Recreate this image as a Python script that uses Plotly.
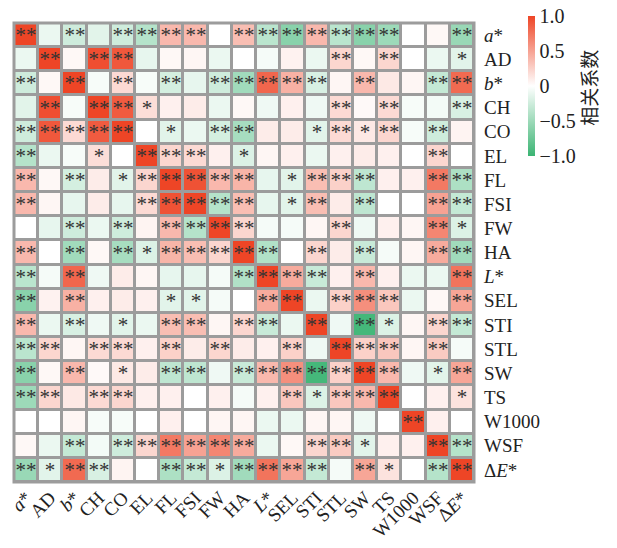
import plotly.graph_objects as go

labels = ["<i>a</i>*", "AD", "<i>b</i>*", "CH", "CO", "EL", "FL", "FSI", "FW", "HA",
          "<i>L</i>*", "SEL", "STI", "STL", "SW", "TS", "W1000", "WSF", "Δ<i>E</i>*"]

corr = [
    [1, -0.1, -0.25, -0.15, -0.25, -0.38, 0.38, 0.38, 0, 0.35, -0.35, -0.6, 0.38, -0.35, -0.6, -0.5, 0, 0.04, -0.52],
    [-0.1, 1, 0.04, 0.95, 0.9, -0.12, 0.04, 0.05, -0.1, 0, -0.05, 0.07, -0.1, 0.22, 0.04, 0.22, 0, -0.1, -0.15],
    [-0.25, 0.04, 1, -0.04, 0.2, -0.04, -0.22, -0.12, -0.25, -0.48, 0.82, 0.42, -0.2, 0.05, 0.38, 0.12, 0.05, -0.3, 0.8],
    [-0.15, 0.95, -0.04, 1, 0.88, 0.18, 0.08, 0.1, -0.1, 0.04, -0.08, 0.08, -0.08, 0.2, 0.03, 0.2, -0.04, -0.06, -0.2],
    [-0.25, 0.9, 0.2, 0.88, 1, 0, -0.15, -0.1, -0.22, -0.45, 0.1, 0.1, -0.15, 0.2, 0.12, 0.22, -0.04, -0.25, 0.06],
    [-0.38, -0.1, -0.04, 0.18, 0, 1, 0.22, 0.2, 0.08, -0.18, 0.05, 0.08, -0.1, 0.08, 0.1, 0.08, 0, 0.22, 0],
    [0.38, 0.04, -0.22, 0.1, -0.15, 0.22, 1, 0.93, 0.38, 0.4, -0.12, -0.15, 0.35, 0.25, -0.33, 0.08, 0.08, 0.72, -0.42],
    [0.38, 0.05, -0.12, 0.1, -0.12, 0.2, 0.93, 1, -0.38, 0.35, -0.12, -0.15, 0.35, 0.1, -0.33, 0, 0, 0.5, -0.3],
    [0, -0.12, -0.25, -0.1, -0.25, 0.06, 0.38, -0.38, 1, 0.22, -0.05, -0.05, 0.05, 0.22, -0.08, 0.08, 0.05, 0.65, -0.18],
    [0.38, 0, -0.48, 0.04, -0.45, -0.18, 0.4, 0.35, 0.22, 1, -0.4, 0, 0.22, 0.1, -0.28, -0.05, 0.05, 0.45, -0.48],
    [-0.35, -0.05, 0.82, -0.08, 0.1, 0.05, -0.12, -0.12, -0.05, -0.4, 1, 0.45, -0.28, 0.08, 0.38, 0.08, -0.1, -0.1, 0.75],
    [-0.6, 0.07, 0.42, 0.08, 0.1, 0.08, -0.15, -0.15, -0.05, 0, 0.45, 1, -0.1, 0.25, 0.6, 0.3, -0.1, 0.04, 0.48],
    [0.38, -0.1, -0.2, -0.08, -0.15, -0.1, 0.35, 0.35, 0.05, 0.22, -0.28, -0.1, 1, -0.08, -0.95, -0.18, 0.05, 0.22, -0.3],
    [-0.35, 0.22, 0.05, 0.2, 0.2, 0.08, 0.25, 0.1, 0.22, 0.1, 0.08, 0.25, -0.08, 1, 0.25, 0.3, 0.05, 0.28, -0.05],
    [-0.6, 0.04, 0.38, 0.03, 0.12, 0.1, -0.33, -0.33, -0.08, -0.28, 0.38, 0.6, -0.95, 0.25, 1, 0.38, -0.08, -0.15, 0.48],
    [-0.5, 0.22, 0.12, 0.2, 0.22, 0.08, 0.08, 0, 0.08, -0.05, 0.08, 0.3, -0.18, 0.3, 0.38, 1, 0, 0.08, 0.15],
    [0, 0, 0.05, -0.04, -0.04, 0, 0.08, 0, 0.05, 0.05, -0.1, -0.1, 0.05, 0.05, -0.08, 0, 1, 0.08, 0],
    [0.04, -0.1, -0.3, -0.06, -0.25, 0.22, 0.72, 0.5, 0.65, 0.45, -0.1, 0.04, 0.22, 0.28, -0.15, 0.08, 0.08, 1, -0.38],
    [-0.52, -0.15, 0.8, -0.2, 0.06, 0, -0.42, -0.3, -0.18, -0.48, 0.75, 0.48, -0.3, -0.05, 0.48, 0.15, 0, -0.38, 1],
]

sig = [
    ["**", "", "**", "", "**", "**", "**", "**", "", "**", "**", "**", "**", "**", "**", "**", "", "", "**"],
    ["", "**", "", "**", "**", "", "", "", "", "", "", "", "", "**", "", "**", "", "", "*"],
    ["**", "", "**", "", "**", "", "**", "", "**", "**", "**", "**", "**", "", "**", "", "", "**", "**"],
    ["", "**", "", "**", "**", "*", "", "", "", "", "", "", "", "**", "", "**", "", "", "**"],
    ["**", "**", "**", "**", "**", "", "*", "", "**", "**", "", "", "*", "**", "*", "**", "", "**", ""],
    ["**", "", "", "*", "", "**", "**", "**", "", "*", "", "", "", "", "", "", "", "**", ""],
    ["**", "", "**", "", "*", "**", "**", "**", "**", "**", "", "*", "**", "**", "**", "", "", "**", "**"],
    ["**", "", "", "", "", "**", "**", "**", "**", "**", "", "*", "**", "", "**", "", "", "**", "**"],
    ["", "", "**", "", "**", "", "**", "**", "**", "**", "", "", "", "**", "", "", "", "**", "*"],
    ["**", "", "**", "", "**", "*", "**", "**", "**", "**", "**", "", "**", "", "**", "", "", "**", "**"],
    ["**", "", "**", "", "", "", "", "", "", "**", "**", "**", "**", "", "**", "", "", "", "**"],
    ["**", "", "**", "", "", "", "*", "*", "", "", "**", "**", "", "**", "**", "**", "", "", "**"],
    ["**", "", "**", "", "*", "", "**", "**", "", "**", "**", "", "**", "", "**", "*", "", "**", "**"],
    ["**", "**", "", "**", "**", "", "**", "", "**", "", "", "**", "", "**", "**", "**", "", "**", ""],
    ["**", "", "**", "", "*", "", "**", "**", "", "**", "**", "**", "**", "**", "**", "**", "", "*", "**"],
    ["**", "**", "", "**", "**", "", "", "", "", "", "", "**", "*", "**", "**", "**", "", "", "*"],
    ["", "", "", "", "", "", "", "", "", "", "", "", "", "", "", "", "**", "", ""],
    ["", "", "**", "", "**", "**", "**", "**", "**", "**", "", "", "**", "**", "*", "", "", "**", "**"],
    ["**", "*", "**", "**", "", "", "**", "**", "*", "**", "**", "**", "**", "", "**", "*", "", "**", "**"],
]

cbar_vals = [1.0, 0.5, 0, -0.5, -1.0]
cbar_text = ["1.0", "0.5", "0", "−0.5", "−1.0"]

n = len(labels)
idx = list(range(n))
serif = "Liberation Serif, Times New Roman, serif"

fig = go.Figure(go.Heatmap(
    z=corr, x=idx, y=idx, text=sig, texttemplate="%{text}",
    textfont=dict(family=serif, size=21, color="#333333"),
    zmin=-1, zmax=1,
    colorscale=[[0, "#3bb473"], [0.5, "#ffffff"], [1, "#ee4526"]],
    xgap=3, ygap=3,
    colorbar=dict(
        thickness=7, len=0.306, lenmode="fraction",
        x=1.1166, xanchor="left", y=1.016, yanchor="top",
        xpad=0, ypad=0, outlinewidth=0,
        tickvals=cbar_vals, ticktext=cbar_text, ticks="",
        ticklabeloverflow="allow",
        tickfont=dict(family=serif, size=20, color="#222222"),
    ),
))

fig.update_layout(
    width=617, height=548,
    margin=dict(l=14, r=143, t=23, b=66),
    paper_bgcolor="white", plot_bgcolor="#9c9c9c",
    font=dict(family=serif, color="#222222"),
    xaxis=dict(tickvals=idx, ticktext=labels, tickangle=-45, range=[-0.5, n - 0.5],
               showgrid=False, zeroline=False, ticks="", automargin=False,
               ticklabeloverflow="allow",
               tickfont=dict(family=serif, size=19, color="#222222")),
    yaxis=dict(tickvals=idx, ticktext=labels, autorange="reversed", side="right",
               showgrid=False, zeroline=False, ticks="", automargin=False,
               ticklabeloverflow="allow", ticklabelstandoff=9,
               tickfont=dict(family=serif, size=19, color="#222222")),
    shapes=[dict(type="rect", xref="paper", yref="paper", x0=0, x1=1, y0=0, y1=1,
                 line=dict(color="#9c9c9c", width=3))],
    annotations=[dict(text="相关系数", textangle=-90, xref="paper", yref="paper",
                      x=1.25, y=0.859, showarrow=False, xanchor="center", yanchor="middle",
                      font=dict(family="Noto Sans CJK SC", size=19, color="#222222"))],
)

fig.write_html("out.html", config={"displayModeBar": False},
               post_script="document.body.style.margin='0';")
